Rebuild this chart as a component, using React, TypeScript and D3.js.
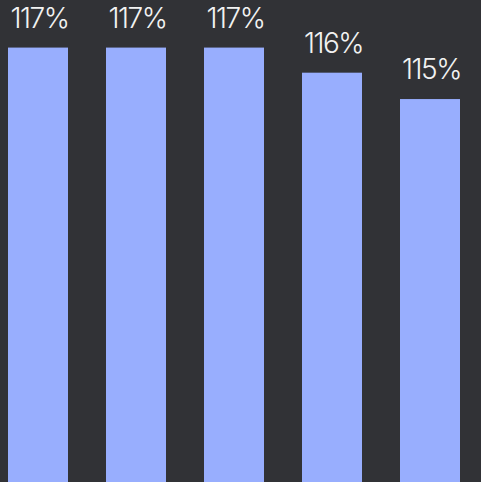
import React from "react";
import * as d3 from "d3";

const categories = ["A", "B", "C", "D", "E"];
const values = [117.3, 117.3, 117.3, 116.3, 115.25];
const labels = ["117%", "117%", "117%", "116%", "115%"];

const W = 481;
const H = 482;

export default function App() {
  const x = d3
    .scaleBand<string>()
    .domain(categories)
    .range([-11, 479])
    .paddingInner(0.3878)
    .paddingOuter(0.1939);
  const y = d3.scaleLinear().domain([100, 118]).range([H, 30]);

  return (
    <svg
      width={W}
      height={H}
      style={{ position: "absolute", left: 0, top: 0, background: "#313236" }}
    >
      <rect x={0} y={0} width={W} height={H} fill="#313236" />
      {categories.map((c, i) => (
        <g key={c}>
          <rect
            x={x(c)}
            y={y(values[i])}
            width={x.bandwidth()}
            height={H - y(values[i])}
            fill="#98AEFE"
          />
          <text
            x={(x(c) as number) + x.bandwidth() / 2 + 1.5}
            y={y(values[i]) - 20}
            textAnchor="middle"
            fill="#F2F2F2"
            fontFamily="Inter"
            fontWeight={300}
            fontSize={28}
            letterSpacing={-1.5}
          >
            {labels[i]}
          </text>
        </g>
      ))}
    </svg>
  );
}
